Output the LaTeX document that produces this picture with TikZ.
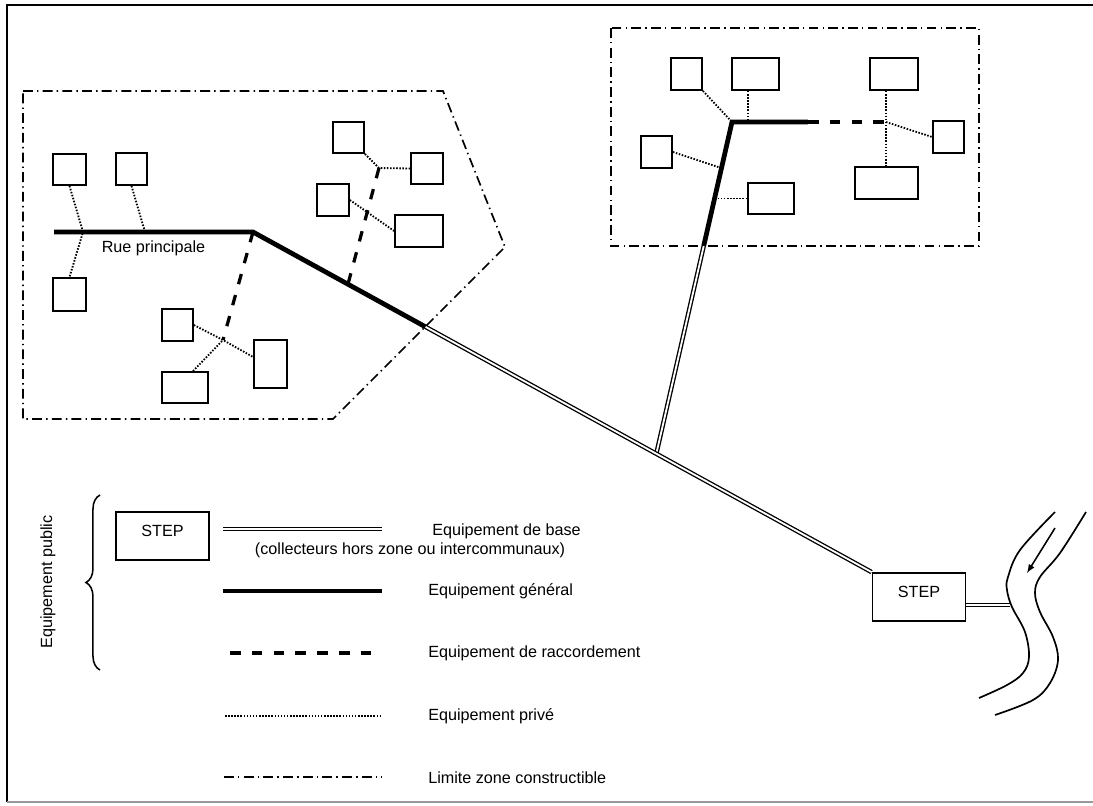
\documentclass[tikz,border=0pt]{standalone}
\usepackage{fontspec}
\setmainfont{Liberation Sans}
\usetikzlibrary{calc,decorations.pathreplacing}

\begin{document}
\begin{tikzpicture}[>=latex, x=0.025cm, y=-0.025cm,
  every node/.style={font=\fontsize{11.5}{13}\selectfont, inner sep=0pt},
  maison/.style 2 args={draw, line width=1.3pt, minimum width=#1*0.025cm, minimum height=#2*0.025cm},
  station/.style={draw, line width=1.3pt, minimum width=93*0.025cm, minimum height=48*0.025cm, text height=8.5pt, text depth=7.3pt},
  base/.style={double, line width=0.95pt, double distance=1.3pt},
  general/.style={line width=3.4pt},
  raccord/.style={line width=2.3pt, dash pattern=on 7.5pt off 8pt},
  prive/.style={line width=1.3pt, dash pattern=on 1.1pt off 1.1pt},
  limite/.style={line width=1.2pt, dash pattern=on 7pt off 3pt on 1pt off 3pt}]
  \useasboundingbox (0,0) rectangle (1093,805);
  % --- Cadre ---
  \draw[line width=1.3pt] (1093,5) -- (7,5) -- (7,802);
  \draw[line width=1.3pt, black!40] (7,802) -- (1093,802);

  % --- Zones constructibles ---
  \draw[limite] (23,91) -- (443,91) -- (505,247) -- (333,419) -- (23,419) -- cycle;
  \draw[limite] (611,28) rectangle (979,246);

  % Maisons, zone gauche
  \node[maison={33}{31}] (A) at (69.5,169.5) {};
  \node[maison={31}{32}] (B) at (131.5,169) {};
  \node[maison={33}{33}] (C) at (69.5,294.5) {};
  \node[maison={31}{32}] (D) at (177.5,325) {};
  \node[maison={46}{31}] (E) at (185,387.5) {};
  \node[maison={33}{48}] (F) at (270.5,364) {};
  \node[maison={31}{31}] (G) at (348.5,137.5) {};
  \node[maison={32}{31}] (H) at (427,168.5) {};
  \node[maison={32}{32}] (I) at (333,200) {};
  \node[maison={48}{32}] (J) at (419,231) {};
  % Maisons, zone droite
  \node[maison={31}{32}] (K) at (686.5,74) {};
  \node[maison={47}{32}] (L) at (755.5,74) {};
  \node[maison={48}{32}] (M) at (894,74) {};
  \node[maison={31}{32}] (N) at (948.5,137) {};
  \node[maison={31}{32}] (O) at (656.5,152) {};
  \node[maison={46}{31}] (P) at (771,198.5) {};
  \node[maison={63}{32}] (Q) at (886.5,183) {};

  % STEP
  \node[station] (step) at (919,597) {STEP};

  % Points du reseau
  \coordinate (rue) at (54,232);
  \coordinate (t1) at (253,232);
  \coordinate (z1) at ($(t1)!0.279!(step.north west)$);
  \coordinate (b) at ($(t1)!0.652!(step.north west)$);
  \coordinate (m2) at ($(t1)!0.1535!(step.north west)$);
  \coordinate (t2) at (732,122);
  \coordinate (z2) at ($(b)!0.627!(t2)$);
  \coordinate (g2) at (808,122);
  \coordinate (j3) at (886,122);
  \coordinate (j1) at (223,340);
  \coordinate (j2) at (379,168);
  \coordinate (r1) at (83,232);
  \coordinate (r2) at (145,232);
  \coordinate (l1) at (748,122);
  \coordinate (o1) at ($(b)!0.861!(t2)$);
  \coordinate (p1) at ($(b)!0.771!(t2)$);

  % Equipement prive
  \draw[prive] (A.south) -- (r1) -- (C.north);
  \draw[prive] (B.south) -- (r2);
  \draw[prive] (D.east) -- (j1) -- ($(F.west)+(0,-7)$);
  \draw[prive] ($(E.north)+(8,0)$) -- (j1);
  \draw[prive] (G.south east) -- (j2) -- (H.west);
  \draw[prive] (I.east) -- (J.west);
  \draw[prive] (K.south east) -- (t2);
  \draw[prive] (l1 |- L.south) -- (l1);
  \draw[prive] (j3 |- M.south) -- (j3 |- Q.north);
  \draw[prive] (j3) -- (N.west);
  \draw[prive] (O.east) -- (o1);
  \draw[prive] (P.west) -- (P.west -| p1);

  % Equipement de raccordement
  \draw[raccord] (t1) -- (j1);
  \draw[raccord] (j2) -- (m2);
  \draw[raccord] (g2) -- (j3);

  % Equipement general et de base
  \draw[base] (b) -- (z2);
  \draw[general] (z2) -- (t2) -- (g2);
  \draw[general] (rue) -- (t1) -- (z1);
  \draw[base] (z1) -- (step.north west);
  \node (ruelbl) at (153.5,248) {Rue principale};

  % Riviere
  \coordinate (rive) at (1010,605);
  \draw[base] (step.east |- rive) -- (rive);
  \draw[line width=1.2pt] plot[smooth, tension=0.6] coordinates {(1055,512) (1020,550) (1008,577) (1007,590) (1012,607) (1025,632) (1029,657) (1023,673) (1007,685) (979,698)};
  \draw[line width=1.2pt] plot[smooth, tension=0.6] coordinates {(1086,512) (1060,553) (1040,577) (1035,593) (1040,612) (1053,637) (1058,660) (1050,683) (1033,700) (995,715)};
  \coordinate (f1) at (1055,528);
  \coordinate (f2) at (1027,573);
  \draw[->, line width=1.1pt] (f1) -- (f2);

  % --- Legende ---
  \node[rotate=90] (public) at (48,582) {Equipement public};
  \draw[decorate, decoration={brace, amplitude=10pt}, line width=1.1pt] (100,670) -- (100,495);
  \node[station] (steplg) at (162.5,536) {STEP};
  \draw[base] (223,529) -- (382,529);
  \draw[general] (223,591) -- (382,591);
  \draw[raccord] (230,653) -- (382,653);
  \draw[prive] (225,716) -- (382,716);
  \draw[limite] (224,777) -- (382,777);
  \node[anchor=west] (leg1) at (432,531) {Equipement de base};
  \node (leg1b) at (410,550) {(collecteurs hors zone ou intercommunaux)};
  \node[anchor=west] (leg2) at (428,591) {Equipement général};
  \node[anchor=west] (leg3) at (428,653) {Equipement de raccordement};
  \node[anchor=west] (leg4) at (428,716) {Equipement privé};
  \node[anchor=west] (leg5) at (428,778) {Limite zone constructible};
\end{tikzpicture}
\end{document}
